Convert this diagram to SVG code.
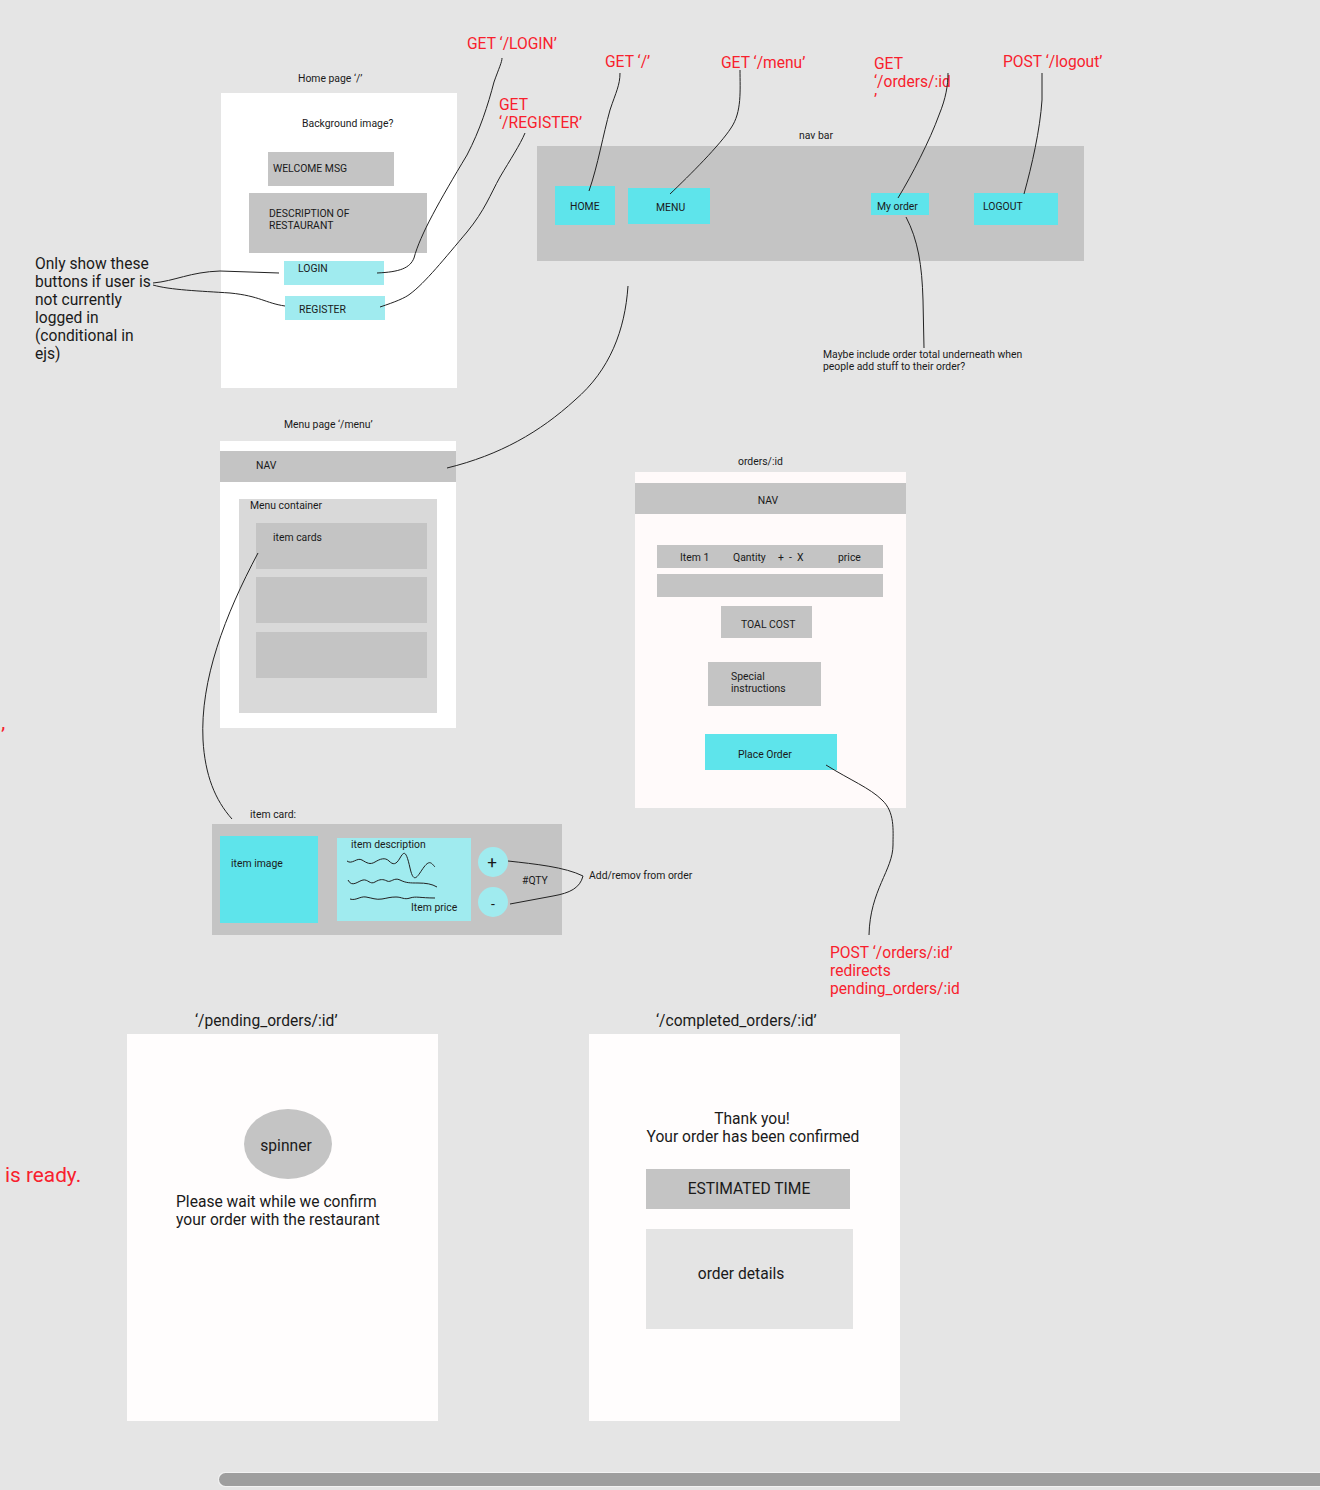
<svg xmlns="http://www.w3.org/2000/svg" width="1320" height="1490" viewBox="0 0 1320 1490">
<style>
text{font-family:Roboto,"Liberation Sans",sans-serif;fill:#1a1a1a}
.s{font-size:10.4px}
.m{font-size:15.6px}
.r{font-size:15.6px;fill:#f8212d}
.g{fill:#c4c4c4}
.c{fill:#5ee4eb}
.lc{fill:#a0ebef}
.w{fill:#ffffff}
.ln{fill:none;stroke:#222;stroke-width:1}
.mid{text-anchor:middle}
</style>
<rect width="1320" height="1490" fill="#e5e5e5"/>

<g id="home-page">
<text class="s" x="298" y="82">Home page ‘/’</text>
<rect class="w" x="221" y="93" width="236" height="295"/>
<text class="s" x="302" y="127">Background image?</text>
<rect class="g" x="268" y="152" width="126" height="34"/>
<text class="s" x="273" y="172">WELCOME MSG</text>
<rect class="g" x="249" y="193" width="178" height="60"/>
<text class="s" x="269" y="217">DESCRIPTION OF</text>
<text class="s" x="269" y="229">RESTAURANT</text>
<rect class="lc" x="284" y="261" width="100" height="24"/>
<text class="s" x="298" y="272">LOGIN</text>
<rect class="lc" x="285" y="296" width="100" height="24"/>
<text class="s" x="299" y="313">REGISTER</text>
</g>

<g id="note-buttons">
<text class="m" x="35" y="269">Only show these</text>
<text class="m" x="35" y="287">buttons if user is</text>
<text class="m" x="35" y="305">not currently</text>
<text class="m" x="35" y="323">logged in</text>
<text class="m" x="35" y="341">(conditional in</text>
<text class="m" x="35" y="359">ejs)</text>
</g>

<g id="route-labels">
<text class="r" x="467" y="49">GET ‘/LOGIN’</text>
<text class="r" x="499" y="110">GET</text>
<text class="r" x="499" y="128">‘/REGISTER’</text>
<text class="r" x="605" y="67">GET ‘/’</text>
<text class="r" x="721" y="68">GET ‘/menu’</text>
<text class="r" x="874" y="69">GET</text>
<text class="r" x="874" y="87">‘/orders/:id</text>
<text class="r" x="874" y="105">’</text>
<text class="r" x="1003" y="67">POST ‘/logout’</text>
</g>

<g id="nav-bar">
<text class="s" x="799" y="139">nav bar</text>
<rect class="g" x="537" y="146" width="547" height="115"/>
<rect class="c" x="555" y="186" width="60" height="39"/>
<text class="s" x="570" y="210">HOME</text>
<rect class="c" x="628" y="188" width="82" height="36"/>
<text class="s" x="656" y="211">MENU</text>
<rect class="c" x="871" y="193" width="58" height="22"/>
<text class="s" x="877" y="210">My order</text>
<rect class="c" x="974" y="193" width="84" height="32"/>
<text class="s" x="983" y="210">LOGOUT</text>
</g>

<g id="note-order-total">
<text class="s" x="823" y="358">Maybe include order total underneath when</text>
<text class="s" x="823" y="370">people add stuff to their order?</text>
</g>

<g id="menu-page">
<text class="s" x="284" y="428">Menu page ‘/menu’</text>
<rect class="w" x="220" y="441" width="236" height="287"/>
<rect class="g" x="220" y="451" width="236" height="31"/>
<text class="s" x="256" y="469">NAV</text>
<rect x="239" y="499" width="198" height="214" fill="#d9d9d9"/>
<text class="s" x="250" y="509">Menu container</text>
<rect class="g" x="256" y="523" width="171" height="46"/>
<text class="s" x="273" y="541">item cards</text>
<rect class="g" x="256" y="577" width="171" height="46"/>
<rect class="g" x="256" y="632" width="171" height="46"/>
</g>

<g id="orders-page">
<text class="s" x="738" y="465">orders/:id</text>
<rect x="635" y="472" width="271" height="336" fill="#fffafa"/>
<rect class="g" x="635" y="483" width="271" height="31"/>
<text class="s mid" x="768" y="504">NAV</text>
<rect class="g" x="657" y="545" width="226" height="23"/>
<text class="s" x="680" y="561">Item 1</text>
<text class="s" x="733" y="561">Qantity</text>
<text class="s" x="778" y="561">+</text>
<text class="s" x="789" y="561">-</text>
<text class="s" x="797" y="561">X</text>
<text class="s" x="838" y="561">price</text>
<rect class="g" x="657" y="574" width="226" height="23"/>
<rect class="g" x="721" y="606" width="91" height="32"/>
<text class="s" x="741" y="628">TOAL COST</text>
<rect class="g" x="708" y="662" width="113" height="44"/>
<text class="s" x="731" y="680">Special</text>
<text class="s" x="731" y="692">instructions</text>
<rect class="c" x="705" y="734" width="132" height="36"/>
<text class="s" x="738" y="758">Place Order</text>
</g>

<g id="item-card">
<text class="s" x="250" y="818">item card:</text>
<rect class="g" x="212" y="824" width="350" height="111"/>
<rect class="c" x="220" y="836" width="98" height="87"/>
<text class="s" x="231" y="867">item image</text>
<rect class="lc" x="337" y="838" width="134" height="83"/>
<text class="s" x="351" y="848">item description</text>
<path class="ln" d="M347,861 C352,865 357,857 362,860 S370,865 375,862 S385,857 389,861 S396,865 400,858 S406,850 410,868 S418,875 424,867 S432,864 435,867"/>
<path class="ln" d="M348,880 C352,888 358,881 363,880 S370,885 375,882 S383,879 387,881 S394,877 400,880 S410,883 418,883 S432,884 437,887"/>
<path class="ln" d="M350,899 C356,901 360,896 366,897 S376,900 382,899 S390,897 396,897 S404,900 410,898 S420,898 435,898"/>
<text class="s" x="411" y="911">Item price</text>
<circle cx="493" cy="862" r="15" fill="#a0ebef"/>
<text class="mid" x="492" y="868" font-size="17">+</text>
<circle cx="493" cy="902" r="15" fill="#a0ebef"/>
<text class="mid" x="493" y="909" font-size="14">-</text>
<text class="s" x="522" y="884">#QTY</text>
</g>

<g id="note-add-remove">
<text class="s" x="589" y="879">Add/remov from order</text>
</g>

<g id="post-label">
<text class="r" x="830" y="958">POST ‘/orders/:id’</text>
<text class="r" x="830" y="976">redirects</text>
<text class="r" x="830" y="994">pending_orders/:id</text>
</g>

<g id="pending-page">
<text class="m" x="195" y="1026">‘/pending_orders/:id’</text>
<rect x="127" y="1034" width="311" height="387" fill="#fffdfd"/>
<ellipse cx="288" cy="1144" rx="44" ry="35" fill="#c4c4c4"/>
<text class="m mid" x="286" y="1151">spinner</text>
<text class="m" x="176" y="1207">Please wait while we confirm</text>
<text class="m" x="176" y="1225">your order with the restaurant</text>
</g>

<g id="completed-page">
<text class="m" x="656" y="1026">‘/completed_orders/:id’</text>
<rect x="589" y="1034" width="311" height="387" fill="#fffdfd"/>
<text class="m mid" x="752" y="1124">Thank you!</text>
<text class="m mid" x="753" y="1142">Your order has been confirmed</text>
<rect class="g" x="646" y="1169" width="204" height="40"/>
<text class="m mid" x="749" y="1194">ESTIMATED TIME</text>
<rect x="646" y="1229" width="207" height="100" fill="#e4e4e4"/>
<text class="m mid" x="741" y="1279">order details</text>
</g>

<g id="stray-text">
<text x="1" y="742" font-size="20.8" style="fill:#f8212d">’</text>
<text x="5" y="1182" font-size="20.8" style="fill:#f8212d">is ready.</text>
</g>

<g id="connectors">
<path class="ln" d="M377,273 C400,272 410,268 414,258 C420,235 440,200 467,155 C480,130 488,105 494,82 C499,68 502,62 502,58"/>
<path class="ln" d="M380,307 C395,302 405,298 410,294 C425,283 445,258 467,232 C485,210 490,195 500,177 C510,160 520,145 525,133"/>
<path class="ln" d="M153,283 C175,281 190,272 220,271 L279,273"/>
<path class="ln" d="M153,285 C170,290 200,291 230,293 C260,296 265,303 285,306"/>
<path class="ln" d="M589,191 C598,165 603,135 610,110 C616,92 620,85 620,73"/>
<path class="ln" d="M670,194 C690,175 720,145 731,128 C742,112 740,90 740,70"/>
<path class="ln" d="M898,198 C912,175 930,140 939,115 C946,98 948,85 948,73"/>
<path class="ln" d="M1024,194 C1032,165 1040,130 1042,100 L1042,73"/>
<path class="ln" d="M906,217 C918,240 922,265 923,300 L924,348"/>
<path class="ln" d="M628,286 C625,330 610,370 575,400 C540,432 500,455 447,468"/>
<path class="ln" d="M258,553 C225,615 200,680 203,740 C205,775 215,800 232,819"/>
<path class="ln" d="M826,765 C850,780 870,788 882,800 C895,812 893,830 893,845 C893,870 870,890 869,935"/>
<path class="ln" d="M508,861 C535,864 565,867 583,876 C580,888 570,893 553,896 L510,904"/>
</g>

<rect x="218" y="1472" width="1110" height="15" rx="7" fill="#f2f2f2"/>
<rect x="219" y="1473" width="1110" height="13" rx="6.5" fill="#9e9e9e"/>
</svg>
